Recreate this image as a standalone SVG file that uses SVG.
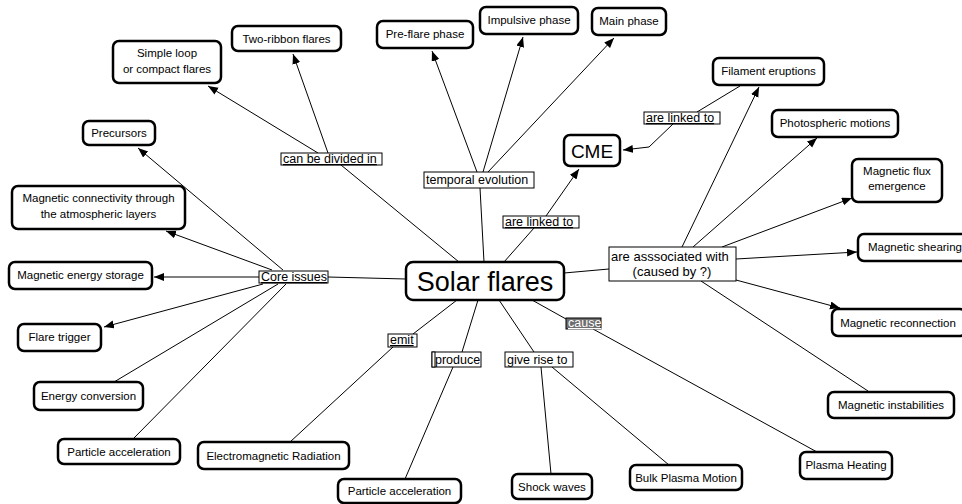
<svg xmlns="http://www.w3.org/2000/svg" width="962" height="504" viewBox="0 0 962 504">
  <style>
    .node rect { fill: #ffffff; stroke: #000000; stroke-width: 2.5; }
    .node text { font-family: "Liberation Sans", Arial, sans-serif; font-size: 11.5px; fill: #000000; text-anchor: middle; }
    .lbl rect { fill: #ffffff; stroke: #000000; stroke-width: 1; }
    .lbl text { font-family: "Liberation Sans", Arial, sans-serif; font-size: 12.5px; fill: #000000; }
    .ul { text-decoration: underline; }
    .edge { stroke: #000000; stroke-width: 1; fill: none; }
    .arr { marker-end: url(#arrow); }
  </style>
  <defs>
    <marker id="arrow" markerUnits="userSpaceOnUse" markerWidth="11" markerHeight="9" refX="10" refY="4" orient="auto">
      <path d="M0,0 L10,4 L0,8 z" fill="#000000"/>
    </marker>
  </defs>
  <rect x="0" y="0" width="962" height="504" fill="#ffffff"/>

  <g id="connectors">
    <!-- Core issues branch -->
    <line class="edge" x1="406" y1="279" x2="328" y2="277"/>
    <line class="edge arr" x1="283" y1="270" x2="138" y2="148"/>
    <line class="edge arr" x1="272" y1="270" x2="166" y2="231"/>
    <line class="edge arr" x1="259" y1="277" x2="154" y2="277"/>
    <line class="edge arr" x1="263" y1="284" x2="104" y2="327"/>
    <line class="edge" x1="278" y1="284" x2="114" y2="382"/>
    <line class="edge" x1="286" y1="284" x2="133" y2="439"/>
    <!-- can be divided in -->
    <line class="edge" x1="459" y1="262" x2="341" y2="165"/>
    <line class="edge arr" x1="318" y1="153" x2="208" y2="86"/>
    <line class="edge arr" x1="328" y1="153" x2="293" y2="54"/>
    <!-- temporal evolution -->
    <line class="edge" x1="484" y1="262" x2="480" y2="188"/>
    <line class="edge arr" x1="477" y1="172" x2="432" y2="51"/>
    <line class="edge arr" x1="483" y1="172" x2="523" y2="37"/>
    <line class="edge arr" x1="488" y1="172" x2="614" y2="38"/>
    <!-- CME links -->
    <line class="edge" x1="504" y1="262" x2="534" y2="228"/>
    <line class="edge arr" x1="546" y1="216" x2="579" y2="169"/>
    <line class="edge" x1="740" y1="86" x2="697" y2="112"/>
    <polyline class="edge arr" points="673,124 649,147 623,150"/>
    <!-- associated with -->
    <line class="edge" x1="564" y1="273" x2="609" y2="269"/>
    <line class="edge arr" x1="682" y1="247" x2="759" y2="87"/>
    <line class="edge arr" x1="693" y1="247" x2="817" y2="138"/>
    <line class="edge arr" x1="722" y1="247" x2="852" y2="198"/>
    <line class="edge arr" x1="736" y1="259" x2="857" y2="252"/>
    <line class="edge arr" x1="736" y1="280" x2="840" y2="308"/>
    <line class="edge" x1="701" y1="281" x2="868" y2="391"/>
    <!-- cause -->
    <line class="edge" x1="532" y1="300" x2="566" y2="319"/>
    <line class="edge" x1="593" y1="329" x2="817" y2="452"/>
    <!-- give rise to -->
    <line class="edge" x1="499" y1="300" x2="534" y2="352"/>
    <line class="edge" x1="541" y1="367" x2="551" y2="474"/>
    <line class="edge" x1="552" y1="367" x2="669" y2="465"/>
    <!-- produce -->
    <line class="edge" x1="478" y1="300" x2="462" y2="352"/>
    <line class="edge" x1="453" y1="367" x2="405" y2="479"/>
    <!-- emit -->
    <line class="edge" x1="457" y1="300" x2="413" y2="334"/>
    <line class="edge" x1="393" y1="347" x2="290" y2="442"/>
  </g>

  <!-- link labels -->
  <g id="lbl-divided" class="lbl"><rect x="281" y="153" width="101" height="12"/><text class="ul" x="283" y="163">can be divided in</text></g>
  <g id="lbl-temporal" class="lbl"><rect x="424" y="172" width="110" height="16"/><text x="426" y="184">temporal evolution</text></g>
  <g id="lbl-linked-low" class="lbl"><rect x="503" y="216" width="76" height="12"/><text class="ul" x="505" y="226">are linked to</text></g>
  <g id="lbl-linked-up" class="lbl"><rect x="644" y="112" width="76" height="12"/><text class="ul" x="646" y="122">are linked to</text></g>
  <g id="lbl-assoc" class="lbl"><rect x="609" y="247" width="127" height="34"/><text x="611" y="261" style="font-size:13px">are asssociated with</text><text x="672" y="276" style="font-size:13px" text-anchor="middle">(caused by ?)</text></g>
  <g id="lbl-core" class="lbl"><rect x="259" y="271" width="69" height="12"/><text class="ul" x="261" y="281">Core issues</text></g>
  <g id="lbl-emit" class="lbl"><rect x="388" y="334" width="29" height="13"/><text class="ul" x="390" y="344">emit</text></g>
  <g id="lbl-produce" class="lbl"><rect x="432" y="352" width="49" height="15"/><rect x="432" y="352" width="3" height="15" fill="#666666" stroke="none"/><text x="435" y="364">produce</text></g>
  <g id="lbl-rise" class="lbl"><rect x="505" y="352" width="68" height="15"/><text x="507" y="364">give rise to</text></g>
  <g id="lbl-cause" class="lbl"><rect x="566" y="318" width="35" height="11" style="fill:#6e6e6e"/><text class="ul" x="568" y="327" style="fill:#ffffff">cause</text></g>

  <!-- concept nodes -->
  <g id="n-solar" class="node"><rect x="406" y="262" width="158" height="38" rx="7"/><text x="485" y="291" style="font-size:27px">Solar flares</text></g>
  <g id="n-simple" class="node"><rect x="113" y="41" width="108" height="42" rx="6"/><text x="167" y="57">Simple loop</text><text x="167" y="73">or compact flares</text></g>
  <g id="n-tworibbon" class="node"><rect x="232" y="26" width="109" height="25" rx="6"/><text x="286.5" y="43">Two-ribbon flares</text></g>
  <g id="n-precursors" class="node"><rect x="83" y="121" width="72" height="24" rx="6"/><text x="119" y="137">Precursors</text></g>
  <g id="n-connectivity" class="node"><rect x="12" y="186" width="173" height="43" rx="6"/><text x="98.5" y="202">Magnetic connectivity through</text><text x="98.5" y="218">the atmospheric layers</text></g>
  <g id="n-storage" class="node"><rect x="9" y="262" width="143" height="27" rx="6"/><text x="80.5" y="279">Magnetic energy storage</text></g>
  <g id="n-trigger" class="node"><rect x="18" y="324" width="83" height="27" rx="6"/><text x="59.5" y="341">Flare trigger</text></g>
  <g id="n-conversion" class="node"><rect x="34" y="382" width="109" height="28" rx="6"/><text x="88.5" y="400">Energy conversion</text></g>
  <g id="n-particle1" class="node"><rect x="58" y="439" width="122" height="25" rx="6"/><text x="119" y="456">Particle acceleration</text></g>
  <g id="n-em" class="node"><rect x="198" y="442" width="151" height="27" rx="6"/><text x="273.5" y="460">Electromagnetic Radiation</text></g>
  <g id="n-particle2" class="node"><rect x="338" y="479" width="123" height="24" rx="6"/><text x="399.5" y="495">Particle acceleration</text></g>
  <g id="n-shock" class="node"><rect x="512" y="474" width="80" height="25" rx="6"/><text x="552" y="491">Shock waves</text></g>
  <g id="n-bulk" class="node"><rect x="630" y="465" width="112" height="25" rx="6"/><text x="686" y="482">Bulk Plasma Motion</text></g>
  <g id="n-heating" class="node"><rect x="800" y="452" width="92" height="27" rx="6"/><text x="846" y="469">Plasma Heating</text></g>
  <g id="n-instab" class="node"><rect x="828" y="392" width="126" height="26" rx="6"/><text x="891" y="409">Magnetic instabilities</text></g>
  <g id="n-reconnect" class="node"><rect x="832" y="309" width="134" height="27" rx="6"/><text x="898" y="327">Magnetic reconnection</text></g>
  <g id="n-shearing" class="node"><rect x="858" y="234" width="112" height="27" rx="6"/><text x="915" y="251">Magnetic shearing</text></g>
  <g id="n-flux" class="node"><rect x="852" y="159" width="90" height="43" rx="6"/><text x="897" y="175">Magnetic flux</text><text x="897" y="190">emergence</text></g>
  <g id="n-photo" class="node"><rect x="772" y="110" width="126" height="27" rx="6"/><text x="835" y="127">Photospheric motions</text></g>
  <g id="n-filament" class="node"><rect x="713" y="58" width="111" height="27" rx="6"/><text x="768.5" y="75">Filament eruptions</text></g>
  <g id="n-cme" class="node"><rect x="564" y="135" width="56" height="31" rx="6"/><text x="592" y="158" style="font-size:19px">CME</text></g>
  <g id="n-preflare" class="node"><rect x="377" y="21" width="96" height="27" rx="6"/><text x="425" y="38">Pre-flare phase</text></g>
  <g id="n-impulsive" class="node"><rect x="480" y="7" width="98" height="27" rx="6"/><text x="529" y="24">Impulsive phase</text></g>
  <g id="n-main" class="node"><rect x="592" y="8" width="74" height="27" rx="6"/><text x="629" y="25">Main phase</text></g>
</svg>
